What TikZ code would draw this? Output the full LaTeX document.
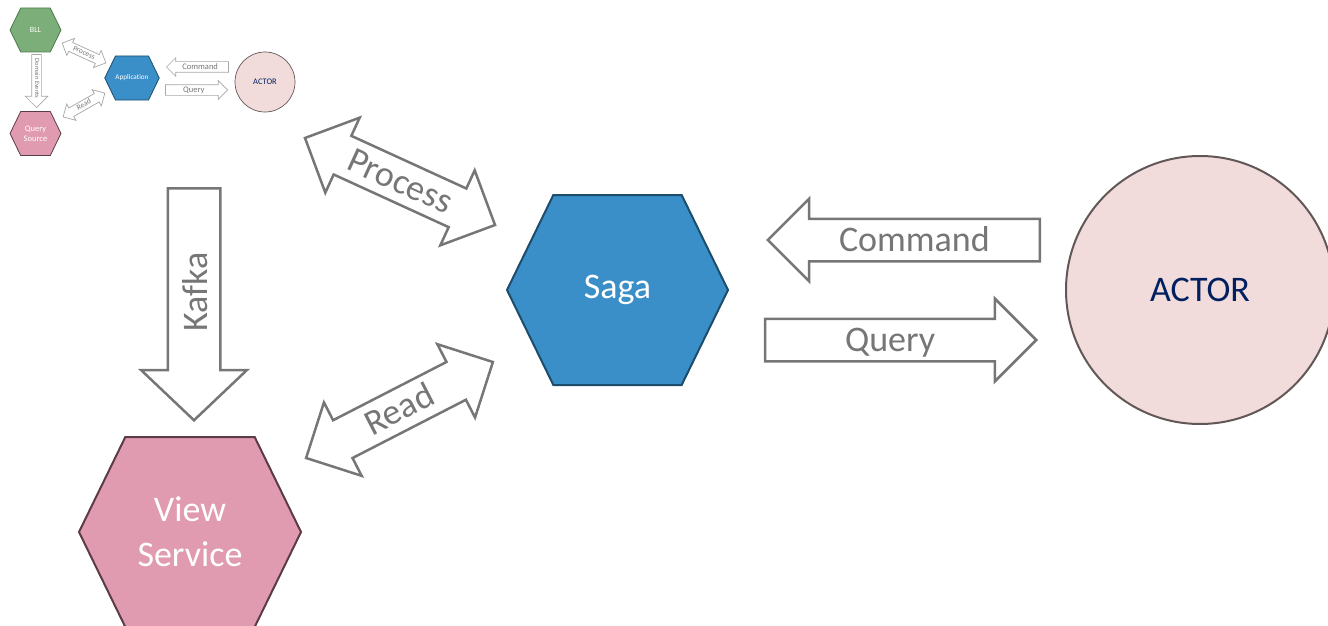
\documentclass[tikz,border=0pt]{standalone}
\usepackage{fontspec}
\setmainfont{Carlito}[Ligatures=NoCommon]
\usetikzlibrary{shapes.arrows,shapes.symbols}

\definecolor{sagablue}{HTML}{3A8FC8}
\definecolor{sagaline}{HTML}{1E4D6B}
\definecolor{viewpink}{HTML}{E09BB0}
\definecolor{viewline}{HTML}{5C3B48}
\definecolor{bllgreen}{HTML}{7BAE78}
\definecolor{bllline}{HTML}{4F7A4C}
\definecolor{actorfill}{HTML}{F2DCDB}
\definecolor{actorline}{HTML}{625757}
\definecolor{actortext}{HTML}{002060}
\definecolor{arrowgray}{HTML}{767676}
\definecolor{insetgray}{HTML}{A6A6A6}

\begin{document}
\begin{tikzpicture}[x=1pt, y=-1pt,
    hexa/.style={signal, signal to=west and east, signal from=nowhere,
                 signal pointer angle=128, inner sep=0pt, align=center,
                 text=white, fill=#1},
    hexa/.default=sagablue,
    block/.style={single arrow, draw=arrowgray, fill=white, text=arrowgray,
                  line width=2.5pt, inner xsep=0pt, inner ysep=5pt,
                  text height=26pt, text depth=4pt,
                  single arrow head extend=20pt, single arrow tip angle=90,
                  font=\fontsize{36}{36}\selectfont},
    dblock/.style={double arrow, draw=arrowgray, fill=white, text=arrowgray,
                   line width=2.5pt, inner xsep=0pt, inner ysep=5pt,
                   text height=26pt, text depth=4pt,
                   double arrow head extend=20pt, double arrow tip angle=90,
                   font=\fontsize{36}{36}\selectfont},
    small/.style={draw=insetgray, line width=0.7pt, text=arrowgray,
                  inner ysep=1.25pt, text height=6pt, text depth=1.5pt,
                  font=\fontsize{8.5}{8.5}\selectfont}
]
    \useasboundingbox (0,0) rectangle (1328,626);

    % Inset: the general picture
    \node[hexa=bllgreen, draw=bllline, line width=0.8pt, minimum width=51pt,
          minimum height=44pt, font=\fontsize{8}{8}\selectfont] (bll) at (35.5,30) {BLL};
    \node[hexa=viewpink, draw=viewline, line width=0.8pt, minimum width=51pt,
          minimum height=44pt, font=\fontsize{8.5}{10}\selectfont] (qsrc) at (35.5,133.5) {Query\\Source};
    \node[hexa=sagablue, draw=sagaline, line width=0.8pt, minimum width=50pt,
          minimum height=44pt, font=\fontsize{7.2}{7.2}\selectfont] (app) at (132,78) {Application};
    \node[circle, fill=actorfill, draw=actorline, line width=0.7pt, minimum size=60pt,
          text=actortext, font=\fontsize{8.5}{8.5}\selectfont] (iactor) at (265,82) {ACTOR};

    \node[small, single arrow, shape border rotate=180, anchor=tip, minimum height=62pt,
          single arrow head extend=4pt] (icmd) at (166,67) {Command};
    \node[small, single arrow, anchor=tip, minimum height=62pt,
          single arrow head extend=4pt] (iqry) at (228,90) {Query};
    \node[small, single arrow, rotate=-90, anchor=tip, minimum height=53pt,
          single arrow head extend=6.5pt, inner ysep=1.5pt, text height=4.5pt,
          font=\fontsize{6.5}{6.5}\selectfont] (ievt) at (36.5,108) {Domain Events};
    \node[small, double arrow, rotate=-24.4, minimum height=48pt, double arrow head extend=4.5pt,
          inner ysep=1pt, text height=5.5pt, font=\fontsize{7.5}{7.5}\selectfont] (iproc) at (84,53) {Process};
    \node[small, double arrow, rotate=29.7, minimum height=48pt, double arrow head extend=4.5pt,
          inner ysep=1pt, text height=5.5pt, font=\fontsize{7.5}{7.5}\selectfont] (iread) at (84,105) {Read};

    % Main picture
    \node[hexa=sagablue, draw=sagaline, line width=2pt, minimum width=221pt,
          minimum height=190pt, font=\fontsize{36}{45}\selectfont] (saga) at (617.5,290) {Saga};
    \node[hexa=viewpink, draw=viewline, line width=2pt, minimum width=222pt,
          minimum height=190pt, font=\fontsize{36}{45}\selectfont] (view) at (190,532) {View\\Service};
    \node[circle, fill=actorfill, draw=actorline, line width=2pt, minimum size=268pt,
          text=actortext, font=\fontsize{36}{36}\selectfont] (actor) at (1200,290) {ACTOR};

    % Block arrows
    \node[block, shape border rotate=180, anchor=tip, minimum height=272pt] (cmd) at (766,240) {Command};
    \node[block, anchor=tip, minimum height=271pt] (qry) at (1038,340) {Query};
    \node[block, rotate=90, shape border rotate=180, anchor=tip, minimum height=232pt,
          inner ysep=12pt, text depth=0pt, single arrow head extend=26.5pt,
          single arrow tip angle=93] (kafka) at (194,422) {Kafka};
    \node[dblock, rotate=-24.6, minimum height=209pt] (proc) at (400,181.5) {Process};
    \node[dblock, rotate=27.2, minimum height=210pt] (read) at (399.5,410) {Read};
\end{tikzpicture}
\end{document}
